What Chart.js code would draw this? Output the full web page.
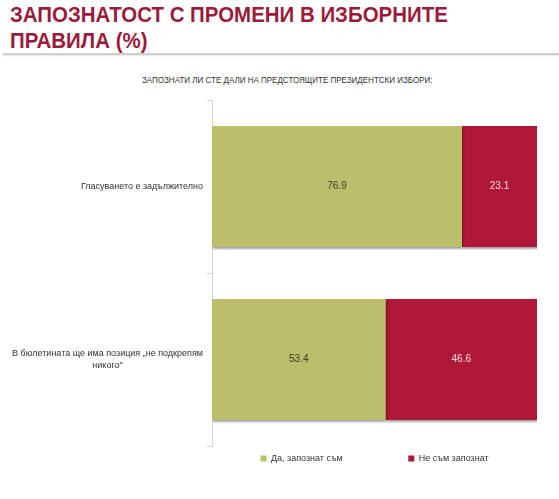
<!DOCTYPE html>
<html>
<head>
<meta charset="utf-8">
<script src="https://cdn.jsdelivr.net/npm/chart.js@4.4.1/dist/chart.umd.min.js"></script>
<style>
  html, body { margin: 0; padding: 0; background: #fff; }
  body { width: 559px; height: 499px; position: relative; overflow: hidden; font-family: "Liberation Sans", Arial, sans-serif; }
  .heading {
    position: absolute; left: 10px; top: 2px;
    font-weight: bold; font-size: 22px; line-height: 26px;
    color: #9c1b3b; white-space: nowrap;
    transform: scaleX(0.93); transform-origin: 0 0;
  }
  .rule {
    position: absolute; left: 3px; right: 0; top: 53px; height: 2px;
    background: #cfcfcf; box-shadow: 0 1px 2px rgba(0,0,0,0.12);
  }
  .question {
    position: absolute; left: 0; width: 574px; top: 75px;
    text-align: center; font-size: 9px; color: #333;
  }
  .question span { display: inline-block; transform: scaleX(0.89); transform-origin: 50% 0; }
  .wrap { position: absolute; left: 0; top: 60px; width: 559px; height: 439px; }
</style>
</head>
<body>
<div class="heading">ЗАПОЗНАТОСТ С ПРОМЕНИ В ИЗБОРНИТЕ<br>ПРАВИЛА (%)</div>
<div class="rule"></div>
<div class="question"><span>ЗАПОЗНАТИ ЛИ СТЕ ДАЛИ НА ПРЕДСТОЯЩИТЕ ПРЕЗИДЕНТСКИ ИЗБОРИ:</span></div>
<div class="wrap"><canvas id="chart"></canvas></div>
<script>
// data
const categories = [
  ['Гласуването е задължително'],
  ['В бюлетината ще има позиция „не подкрепям', 'никого"']
];
const seriesNames = ['Да, запознат съм', 'Не съм запознат'];
const awareValues = [76.9, 53.4];
const notAwareValues = [23.1, 46.6];

const green = '#bbbf6b';
const red = '#af1838';

// shadow under the bars
const barShadow = {
  id: 'barShadow',
  beforeDatasetsDraw(chart) {
    const c = chart.ctx;
    c.save();
    c.shadowColor = 'rgba(0,0,0,0.35)';
    c.shadowOffsetX = 1;
    c.shadowOffsetY = 2;
    c.shadowBlur = 2;
  },
  afterDatasetsDraw(chart) {
    chart.ctx.restore();
  }
};

// numbers inside the bars
const valueLabels = {
  id: 'valueLabels',
  afterDatasetsDraw(chart) {
    const c = chart.ctx;
    c.save();
    c.font = '10px "Liberation Sans", Arial, sans-serif';
    c.textAlign = 'center';
    c.textBaseline = 'middle';
    chart.data.datasets.forEach((ds, di) => {
      chart.getDatasetMeta(di).data.forEach((bar, i) => {
        c.fillStyle = di === 0 ? '#3a3a2a' : '#f6dde3';
        c.fillText(ds.data[i].toFixed(1), (bar.x + bar.base) / 2, bar.y);
      });
    });
    c.restore();
  }
};

// category labels, each block centred and right edge near the axis
const catLabels = {
  id: 'catLabels',
  afterDraw(chart) {
    const c = chart.ctx;
    const scale = chart.scales.y;
    c.save();
    c.font = '9px "Liberation Sans", Arial, sans-serif';
    c.fillStyle = '#333';
    c.textAlign = 'center';
    c.textBaseline = 'middle';
    const lh = 12;
    categories.forEach((lines, i) => {
      const y = scale.getPixelForTick(i);
      const w = Math.max(...lines.map(l => c.measureText(l).width));
      const cx = scale.right - 9 - w / 2;
      lines.forEach((l, k) => {
        c.fillText(l, cx, y + (k - (lines.length - 1) / 2) * lh);
      });
    });
    c.restore();
  }
};

new Chart(document.getElementById('chart'), {
  type: 'bar',
  data: {
    labels: categories,
    datasets: [
      { label: seriesNames[0], data: awareValues, backgroundColor: green },
      { label: seriesNames[1], data: notAwareValues, backgroundColor: red }
    ]
  },
  options: {
    indexAxis: 'y',
    responsive: true,
    maintainAspectRatio: false,
    animation: false,
    layout: { padding: { left: 0, right: 22, top: 40, bottom: 26 } },
    datasets: { bar: { categoryPercentage: 1, barPercentage: 0.7 } },
    scales: {
      x: { stacked: true, min: 0, max: 100, display: false },
      y: {
        stacked: true,
        afterFit(scale) { scale.width = 212; },
        ticks: { display: false },
        grid: { display: true, drawOnChartArea: false, drawTicks: true, tickLength: 5, color: '#d4d4d4', offset: true },
        border: { display: true, color: '#d4d4d4' }
      }
    },
    plugins: {
      tooltip: { enabled: false },
      legend: {
        position: 'bottom',
        fullSize: false,
        labels: {
          boxWidth: 6,
          boxHeight: 6,
          padding: 8,
          color: '#333',
          font: { size: 9, family: '"Liberation Sans", Arial, sans-serif' },
          generateLabels(chart) {
            return chart.data.datasets.map((ds, i) => ({
              text: i === 0 ? ds.label + ' '.repeat(23) : ds.label,
              fillStyle: ds.backgroundColor,
              strokeStyle: ds.backgroundColor,
              lineWidth: 0,
              datasetIndex: i,
              fontColor: '#333'
            }));
          }
        }
      }
    }
  },
  plugins: [barShadow, valueLabels, catLabels]
});
</script>
</body>
</html>
